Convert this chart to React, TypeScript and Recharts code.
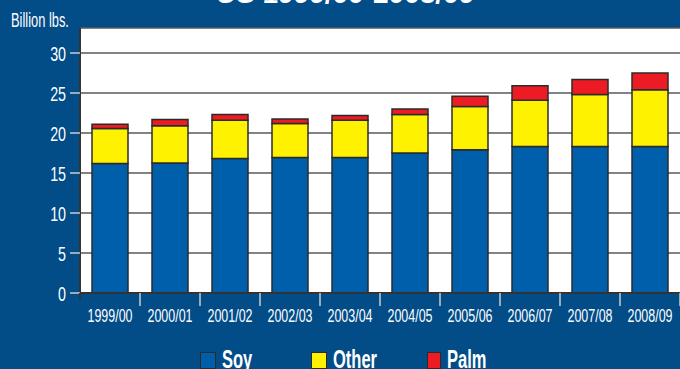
import { BarChart, Bar, XAxis, YAxis, CartesianGrid } from 'recharts';

const categories = ['1999/00', '2000/01', '2001/02', '2002/03', '2003/04', '2004/05', '2005/06', '2006/07', '2007/08', '2008/09'];
const soy = [16.2, 16.25, 16.8, 16.95, 16.95, 17.5, 17.9, 18.3, 18.3, 18.3];
const other = [4.35, 4.65, 4.8, 4.25, 4.65, 4.8, 5.4, 5.8, 6.5, 7.1];
const palm = [0.55, 0.8, 0.7, 0.55, 0.6, 0.7, 1.3, 1.8, 1.9, 2.1];
const yTicks = [0, 5, 10, 15, 20, 25, 30];

const COLORS = {
  soy: '#005fab',
  other: '#fff200',
  palm: '#ed1c24',
};

const series = [
  { key: 'soy', name: 'Soy', color: COLORS.soy },
  { key: 'other', name: 'Other', color: COLORS.other },
  { key: 'palm', name: 'Palm', color: COLORS.palm },
];

const data = categories.map((year, i) => ({ year, soy: soy[i], other: other[i], palm: palm[i] }));

const W = 680;
const H = 369;
const BG = '#024c88';
const FONT = "'Liberation Sans', Arial, sans-serif";
const HALF_BAND = 600 / categories.length / 2;

function XTick({ x, y, payload, index }: any) {
  return (
    <g>
      <line x1={x + HALF_BAND} x2={x + HALF_BAND} y1={y} y2={y + 13} stroke="#c8ccd2" strokeWidth={1.5} />
      {index === 0 && <line x1={x - HALF_BAND} x2={x - HALF_BAND} y1={y} y2={y + 6} stroke="#333" strokeWidth={2} />}
      <text
        transform={`translate(${x},${y + 29}) scale(0.655,1)`}
        textAnchor="middle"
        fill="#fff"
        fontSize={19}
        fontFamily={FONT}
      >
        {payload.value}
      </text>
    </g>
  );
}

function YTick({ x, y, payload }: any) {
  return (
    <text
      transform={`translate(${x},${y + 8}) scale(0.68,1)`}
      textAnchor="end"
      fill="#fff"
      fontSize={21}
      fontFamily={FONT}
    >
      {payload.value}
    </text>
  );
}

const legendWidths = [111, 116, 80];

export default function App() {
  return (
    <div style={{ position: 'absolute', left: 0, top: 0, width: W, height: H, background: BG, overflow: 'hidden' }}>
      <BarChart width={W} height={H} data={data} margin={{ top: 28, right: 0, left: 0, bottom: 0 }}>
        <CartesianGrid vertical={false} fill="#fff" stroke="#5a5a5a" strokeWidth={1.5} />
        <XAxis
          dataKey="year"
          height={76}
          tickLine={false}
          tickSize={0}
          tickMargin={0}
          axisLine={{ stroke: '#333', strokeWidth: 2 }}
          tick={<XTick />}
          interval={0}
        />
        <YAxis
          width={80}
          domain={[0, 33.125]}
          ticks={yTicks}
          allowDataOverflow
          tickSize={10}
          tickMargin={4}
          tickLine={{ stroke: '#c8ccd2', strokeWidth: 1.5 }}
          axisLine={{ stroke: '#333', strokeWidth: 2 }}
          tick={<YTick />}
        />
        {series.map((s) => (
          <Bar
            key={s.key}
            dataKey={s.key}
            name={s.name}
            stackId="a"
            fill={s.color}
            stroke="#2b2b2b"
            strokeWidth={1.5}
            barSize={36}
            isAnimationActive={false}
          />
        ))}
      </BarChart>

      <svg width={W} height={40} style={{ position: 'absolute', left: 0, top: 0, pointerEvents: 'none' }}>
        <text x={345} y={3} textAnchor="middle" fill="#fff" fontSize={28} fontWeight="bold" fontFamily={FONT}>
          US 1999/00-2008/09
        </text>
        <text transform="translate(11,27) scale(0.66,1)" fill="#fff" fontSize={19.5} fontFamily={FONT}>
          Billion lbs.
        </text>
      </svg>

      <div style={{ position: 'absolute', left: 200, top: 344, display: 'flex', fontFamily: FONT }}>
        {series.map((s, i) => (
          <div key={s.key} style={{ width: legendWidths[i], display: 'flex', alignItems: 'flex-start' }}>
            <div
              style={{
                width: 14,
                height: 15,
                marginTop: 8,
                background: s.color,
                border: '1.5px solid #2b2b2b',
              }}
            />
            <div
              style={{
                marginLeft: 6,
                color: '#fff',
                fontWeight: 'bold',
                fontSize: 25,
                lineHeight: '30px',
                transform: 'scaleX(0.66)',
                transformOrigin: 'left center',
                whiteSpace: 'nowrap',
              }}
            >
              {s.name}
            </div>
          </div>
        ))}
      </div>
    </div>
  );
}
